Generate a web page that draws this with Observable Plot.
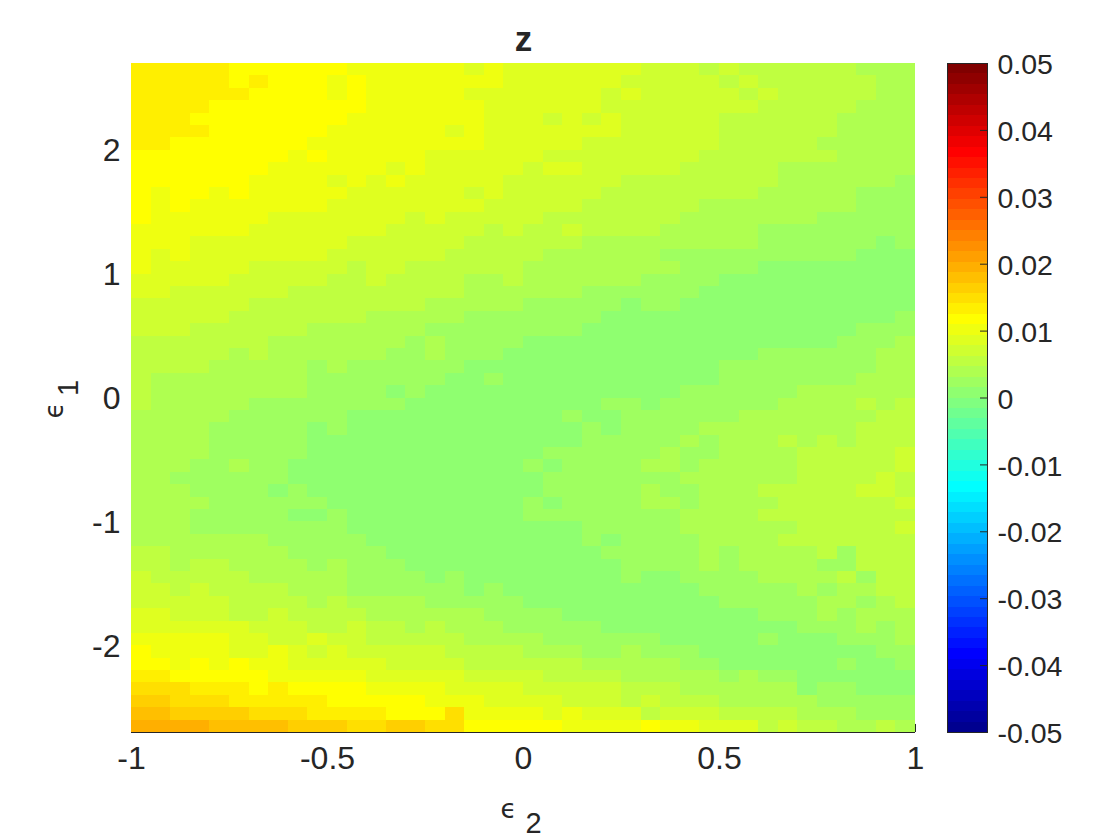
<!DOCTYPE html>
<html>
<head>
<meta charset="utf-8">
<script src="https://cdn.jsdelivr.net/npm/d3@7"></script>
<script src="https://cdn.jsdelivr.net/npm/@observablehq/plot@0.6"></script>
<style>
  html, body { margin: 0; padding: 0; background: white; }
  #chart { display: flex; width: 1120px; height: 840px; }
  svg { display: block; flex: none; }
</style>
</head>
<body>
<div id="chart"></div>
<script>
// Colour-level readings, one string per row (top row first), one hex digit per column.
const zLevelRows = [
"88888 777777 666666 5 6 5555555 444 3 4 333333 222",
"88888 7 8 777 6 7 6 666666 555555 44 444 3 4 333333 22",
"888888 7777 6 7 6 6666 5555555 4 5 4 4444 3 4 33333 22",
"8888 77777777 6 66666 555555 444 44444 33333 222",
"888 77777777 66 66666 555 4 5 4 5 44 444 333333 2222",
"8888 777777 666 666 5 6 5555555 44 444 333333 2222",
"88 7777777 6666 66666 55555 4444 444 33333 22222",
"77777777 6 7 666 66 555555 444444 44 3333333 2222",
"7777777 666666 5 6 55555 4 55 4444 4 33333 2222222",
"777777 6666 5 6 5 6 55555 444444 33 333333 222222 1",
"7 6 77 6 7 6666 6 55 5555 4 5 44444 333 33333 22222 111",
"7 6 7 6666666 555 55555 44444 3333 33 22222222 111",
"7 666666 555555 5 4 5 44444 333333 3 2222222 11111",
"666666 5555555 44444 3 4 33 4 3333 22222 11111111",
"666 55555555 44 4444 333333 2222 22222 111111 0 1",
"6 5 6 5555555 444 444 33333 222222 1111111111 000",
"6 55555 44444 3 4 4 333333 2222222 2 1111 00000000",
"55555 44444 33 4 3333 22 3 222222 1111 0000000000",
"55 444444 33333 3333 222222 1111 11 00000000000",
"444444 3333333 33 22222 11111 0 11 000000000000",
"44444 3333333 2 2222 1111111 000000000000000 1",
"444 333333 2222 22 11111111 00000000000000 111",
"3333333 222222 2 1 2 1111 0000000000000000 111 2",
"33333 2 3 222222 11 2 111 0000000000000 111111 22",
"3333 22222 1 2 11 1111 0000000000000 11111111 22",
"3 22222222 1111 111 00 1 00000000000 1111111 222",
"3 22222222 1111 0 1 0000000000000 111111 222222",
"3 22222 1111111 1 0000000000 11 0 111111 2222 3 2 3",
"22222 111111 00 000000000 1 00 11 1111 2222222 33",
"2222 11111 0 1 00 0000000000 1 0 11 11 22222222 333",
"2222 11111 0000 0000000000 1111 1 2 1 222 3 2 3 2 333",
"2222 11111 0000 00000000 111111 2 11 2222 33333 4",
"222 11 2 11 00000 0000000 1 0 1111 2 2 1 22222 33333 4",
"22 111111 00000 00000000 111111 1 222222 3333 4 3",
"222 1111 0 1 0000 00000000 11111 2 11 222 33333 44 3",
"2222 111111 000 0000000 1 0 1111 2 2 1 2222 333333 4",
"222 11111 00 1 00 0000000 1111111 1 2222 33333333",
"222 11111111 00 0000000000 1111 1 222222 33333 4",
"2222222 11111 0 0000000000 1 0 11 11 2222 3333333",
"33 222222 11111 00000000000 111 11 2 1 2222 3 1 333",
"33 2 33 2222 1 2 11 1 00000000000 11 11 2 1 2222 11 333",
"4 33333 22222 11 11 0 1 00000000 1 0 0 1111 2222 3 1 33",
"44 3 4 3333 222 11 1111 0 1 00000000 00 11111 2 1 22 33",
"44444 3333 2 3 22 22 11111 0000000 000 11111 22 1 2 3",
"55 444 33 4 3333 2 22222 1111 00000 00000 111 2 1 222",
"555555 444 33 4 3 3 2 3 222 11111 000 0000000 111 2 1 2",
"66666 55 44 5 44 3 3333 2222 111111 00000 1 000 111 2",
"7 6666 55 6 5 4 5 44 444 3333 222 11 2 1 11 000000000 11",
"77 6 7 6 7 66 55555 4444 333333 2222 2 11 000000 1 00 1",
"88 77777 66666 5 5555 4444 3333 22 222 1 2 11 000000",
"999 888 7 8 7777 6 666 5555 44444 33 3 222222 0 11 000",
"aa 999 88888 777 77 666 5555 444 3 4 333 22222 11111",
"bb aaaa 999 8888 777 9 6666 5 6 555 3 444 3333 222 111",
"cccc bbbb aaa 99 aa 99 77777 6666 7 66 555 3 4 33 22 3 2"
];
const xTicks = [-1, -0.5, 0, 0.5, 1];
const yTicks = [-2, -1, 0, 1, 2];
const barTicks = [-0.05, -0.04, -0.03, -0.02, -0.01, 0, 0.01, 0.02, 0.03, 0.04, 0.05];
const xDomain = [-1, 1];
const yDomain = [-2.7, 2.7];
const zDomain = [-0.05, 0.05];
const xStep = 0.05;
const yStep = 0.1;
const nColors = 64;
const zStep = (zDomain[1] - zDomain[0]) / nColors;

const ink = "#262626";
const fontFamily = "'Liberation Sans', Arial, sans-serif";

// MATLAB jet(64)
const clamp = v => Math.max(0, Math.min(1, v));
const jet = d3.range(nColors).map(i => {
  const t = (i + 1) / nColors;
  return d3.rgb(
    Math.round(255 * clamp(Math.min(4 * t - 1.5, -4 * t + 4.5))),
    Math.round(255 * clamp(Math.min(4 * t - 0.5, -4 * t + 3.5))),
    Math.round(255 * clamp(Math.min(4 * t + 0.5, -4 * t + 2.5)))
  ).formatHex();
});
const thresholds = d3.range(1, nColors).map(i => zDomain[0] + i * zStep);
const colorScale = {type: "threshold", domain: thresholds, range: jet};

const cells = zLevelRows.flatMap((row, r) =>
  Array.from(row.replace(/ /g, "")).map((ch, c) => ({
    x1: xDomain[0] + c * xStep,
    x2: xDomain[0] + (c + 1) * xStep,
    y2: yDomain[1] - r * yStep,
    y1: yDomain[1] - (r + 1) * yStep,
    z: (parseInt(ch, 16) + 0.5) * zStep
  }))
);

const main = Plot.plot({
  width: 940,
  height: 840,
  marginLeft: 131,
  marginRight: 25,
  marginTop: 63,
  marginBottom: 108,
  style: {fontFamily, color: ink, background: "white"},
  x: {domain: xDomain, axis: null},
  y: {domain: yDomain, axis: null},
  color: colorScale,
  marks: [
    Plot.rect(cells, {x1: "x1", x2: "x2", y1: "y1", y2: "y2", fill: "z", shapeRendering: "crispEdges"}),
    Plot.ruleY([yDomain[0]], {stroke: ink, strokeWidth: 1}),
    Plot.ruleX([xDomain[1]], {y1: yDomain[0], y2: yDomain[0] + 0.065, stroke: ink, strokeWidth: 1}),
    Plot.axisX(xTicks, {anchor: "bottom", tickSize: 0, tickPadding: 14, fontSize: 32, tickFormat: d => String(d), label: null}),
    Plot.axisY(yTicks, {anchor: "left", tickSize: 0, tickPadding: 11, dy: 1, fontSize: 32, tickFormat: d => String(d), label: null}),
    Plot.text(["z"], {frameAnchor: "top", lineAnchor: "middle", dy: -24, fontSize: 35, fontWeight: "bold", fill: ink}),
    Plot.text(["ϵ"], {frameAnchor: "bottom", lineAnchor: "middle", dx: -15, dy: 77, fontSize: 26, fontFamily: "'DejaVu Sans'", fill: ink}),
    Plot.text(["2"], {frameAnchor: "bottom", lineAnchor: "middle", dx: 10, dy: 91, fontSize: 29, fill: ink}),
    Plot.text(["ϵ"], {frameAnchor: "left", textAnchor: "middle", lineAnchor: "middle", dx: -77, dy: 12.5, rotate: -90, fontSize: 26, fontFamily: "'DejaVu Sans'", fill: ink}),
    Plot.text(["1"], {frameAnchor: "left", textAnchor: "middle", lineAnchor: "middle", dx: -63, dy: -10, rotate: -90, fontSize: 29, fill: ink})
  ]
});

const barLevels = d3.range(nColors).map(i => ({
  y1: zDomain[0] + i * zStep,
  y2: zDomain[0] + (i + 1) * zStep,
  z: zDomain[0] + (i + 0.5) * zStep
}));

const bar = Plot.plot({
  width: 180,
  height: 840,
  marginLeft: 7,
  marginRight: 133,
  marginTop: 63,
  marginBottom: 108,
  style: {fontFamily, color: ink, background: "white"},
  x: {domain: [0, 1], axis: null},
  y: {domain: zDomain, axis: null},
  color: colorScale,
  marks: [
    Plot.rect(barLevels, {x1: 0, x2: 1, y1: "y1", y2: "y2", fill: "z", shapeRendering: "crispEdges"}),
    Plot.tickY(barTicks.slice(1, -1), {y: d => d, insetLeft: 33, stroke: ink, strokeWidth: 1}),
    Plot.frame({stroke: ink, strokeWidth: 1}),
    Plot.axisY(barTicks, {anchor: "right", tickSize: 0, tickPadding: 10, dy: 1.5, fontSize: 28.5, tickFormat: d => String(d), label: null})
  ]
});

document.getElementById("chart").append(main, bar);
</script>
</body>
</html>
